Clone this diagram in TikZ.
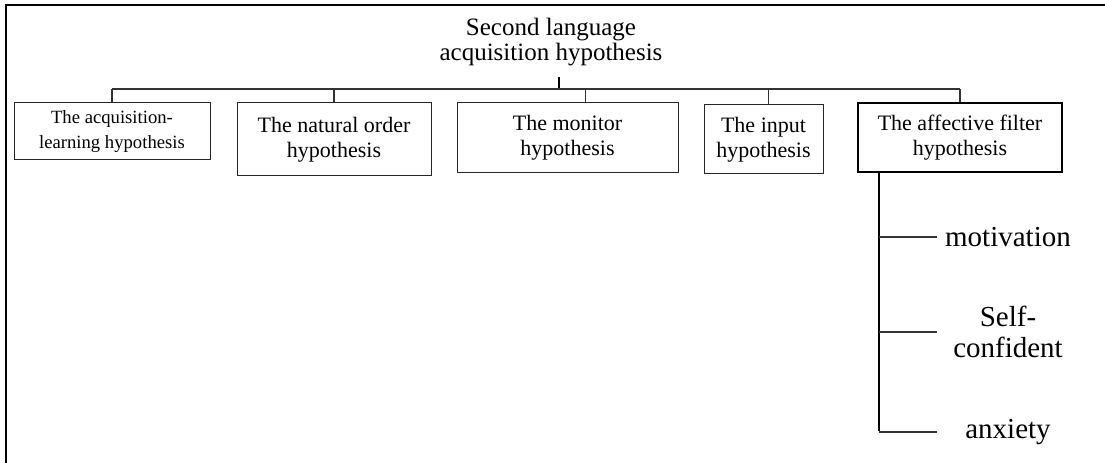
\documentclass[tikz,border=0pt]{standalone}
\usepackage{fontspec}
\setmainfont{Liberation Serif}

\begin{document}
\begin{tikzpicture}[x=0.75pt,y=-0.75pt,
  hyp/.style={draw=black!85,line width=0.75pt,inner sep=0pt,align=center,
    font=\fontsize{16.5}{18.75}\selectfont},
  leaf/.style={inner sep=0pt,align=center,font=\fontsize{21.75}{23.5}\selectfont},
  link/.style={draw=black!80,line width=0.8pt}]
\useasboundingbox (0,0) rectangle (1105,463);
% frame
\draw[line width=1.9pt] (6,463) -- (6,5) -- (1105,5);
% title
\node[inner sep=0pt,align=center,font=\fontsize{18.75}{18.75}\selectfont] (title) at (551,42) {Second language\\acquisition hypothesis};
% hypotheses
\node[hyp,minimum width=147pt,minimum height=42.75pt,font=\fontsize{14}{18.75}\selectfont] (h1) at (112,131.5) {The acquisition-\\learning hypothesis};
\node[hyp,minimum width=145.5pt,minimum height=54.75pt] (h2) at (334,139.5) {The natural order\\hypothesis};
\node[hyp,minimum width=165.75pt,minimum height=52.5pt] (h3) at (567.5,138) {The monitor\\hypothesis};
\node[hyp,minimum width=89.25pt,minimum height=51.75pt] (h4) at (763.5,139.5) {The input\\hypothesis};
\node[hyp,draw=black,line width=1.4pt,minimum width=153pt,minimum height=51.75pt] (h5) at (960,137.5) {The affective filter\\hypothesis};
% tree
\coordinate (stem) at (559,77);
\coordinate (bus) at (559,89);
\draw[line width=1.5pt] (stem) -- (bus);
\draw[link] (h1.north |- bus) -- (h5.north |- bus);
\foreach \n in {h1,h2,h5}
  \draw[link] (\n.north) -- (\n.north |- bus);
\draw[link] ([xshift=13.5pt]h3.north) -- ([xshift=13.5pt]h3.north |- bus);
\draw[link] ([xshift=3.4pt]h4.north) -- ([xshift=3.4pt]h4.north |- bus);
% affective factors
\node[leaf] (l1) at (1008,237) {motivation};
\node[leaf] (l2) at (1008,332) {Self-\\confident};
\node[leaf] (l3) at (1008,432) {anxiety};
\coordinate (sp) at (879,431);
\draw[line width=1.1pt] (h5.south -| sp) -- (sp);
\foreach \n in {l1,l2,l3}
  \draw[link] (sp |- \n) -- ++(58,0);
\end{tikzpicture}
\end{document}
